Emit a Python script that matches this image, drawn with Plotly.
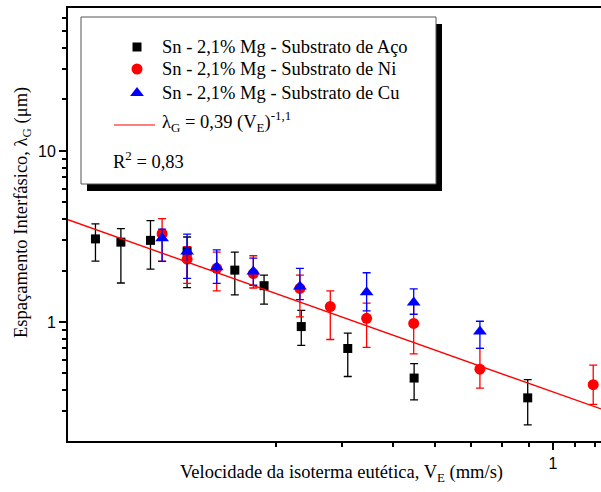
import numpy as np
import plotly.graph_objects as go

# Eutectic growth velocity V_E (mm/s) and interphase spacing lambda_G (um)
v_aco = [0.137, 0.153, 0.174, 0.204, 0.251, 0.285, 0.335, 0.410, 0.547, 0.896]
lam_aco = [3.06, 2.93, 3.00, 2.59, 2.01, 1.63, 0.94, 0.70, 0.47, 0.36]
up_aco = [0.69, 0.58, 0.91, 0.55, 0.55, 0.25, 0.23, 0.16, 0.10, 0.10]
dn_aco = [0.79, 1.24, 0.96, 1.00, 0.57, 0.36, 0.21, 0.22, 0.12, 0.11]

v_ni = [0.183, 0.204, 0.232, 0.272, 0.333, 0.380, 0.445, 0.546, 0.728, 1.191]
lam_ni = [3.28, 2.33, 2.06, 1.92, 1.57, 1.23, 1.05, 0.98, 0.53, 0.43]
up_ni = [0.74, 0.43, 0.50, 0.52, 0.31, 0.29, 0.24, 0.30, 0.17, 0.13]
dn_ni = [1.01, 0.65, 0.54, 0.34, 0.50, 0.44, 0.34, 0.33, 0.12, 0.10]

v_cu = [0.183, 0.204, 0.232, 0.272, 0.333, 0.445, 0.546, 0.728]
lam_cu = [3.09, 2.58, 2.09, 1.97, 1.61, 1.49, 1.30, 0.88]
up_cu = [0.40, 0.68, 0.55, 0.39, 0.45, 0.45, 0.26, 0.13]
dn_cu = [0.83, 0.78, 0.41, 0.33, 0.26, 0.33, 0.19, 0.18]

# Power-law fit lambda_G = a * V_E^b
fit_a = 0.39
fit_b = -1.1
r2_text = "0,83"

series_names = [
    "Sn - 2,1% Mg - Substrato de Aço",
    "Sn - 2,1% Mg - Substrato de Ni",
    "Sn - 2,1% Mg - Substrato de Cu",
]

x_range = [-0.9151, 0.0906]   # log10 of V_E
y_range = [-0.696, 1.836]     # log10 of lambda_G
x_minor = [0.3, 0.4, 0.5, 0.6, 0.7, 0.8, 0.9, 1.1, 1.2]
y_major = [1, 10]
y_minor = [0.3, 0.4, 0.5, 0.6, 0.7, 0.8, 0.9, 2, 3, 4, 5, 6, 7, 8, 9, 20, 30, 40, 50, 60]

SERIF = "Liberation Serif, Times New Roman, serif"
SANS = "Liberation Sans, Arial, sans-serif"

# figure geometry (pixels)
W, H = 601, 492
ML, MR, MT, MB = 68, 0, 8, 51


def px_to_paper(px, py):
    return (px - ML) / (W - ML - MR), (H - MB - py) / (H - MT - MB)


fig = go.Figure()

styles = [
    (v_aco, lam_aco, up_aco, dn_aco, "black", "square", 9),
    (v_ni, lam_ni, up_ni, dn_ni, "#ff0000", "circle", 11),
    (v_cu, lam_cu, up_cu, dn_cu, "#0000ff", "triangle-up", 12),
]
for (vx, ly, eu, ed, col, sym, sz), name in zip(styles, series_names):
    fig.add_trace(go.Scatter(
        x=vx, y=ly, mode="markers", name=name, showlegend=False,
        marker=dict(symbol=sym, size=sz, color=col, line=dict(width=0)),
        error_y=dict(type="data", symmetric=False, array=eu, arrayminus=ed,
                     color=col, thickness=1.3, width=4),
    ))

# fitted curve across the full x range
v_fit = np.logspace(x_range[0], x_range[1], 200)
fig.add_trace(go.Scatter(
    x=v_fit, y=fit_a * v_fit ** fit_b, mode="lines", showlegend=False,
    line=dict(color="#ff0000", width=1.4),
))

# ---- hand-built legend in pixel-unit overlay axes ----
LEG_FONT = dict(family=SERIF, size=18.5, color="black")
legend_rows = [(47, "black", "square", 9), (69, "#ff0000", "circle", 11),
               (93, "#0000ff", "triangle-up", 12)]
for (ry, col, sym, sz), name in zip(legend_rows, series_names):
    fig.add_trace(go.Scatter(
        x=[137], y=[ry], xaxis="x2", yaxis="y2", mode="markers",
        showlegend=False, hoverinfo="skip",
        marker=dict(symbol=sym, size=sz, color=col, line=dict(width=0)),
    ))
    fig.add_annotation(x=160, y=ry, xref="x2", yref="y2", text=name,
                       showarrow=False, xanchor="left", yanchor="middle",
                       font=LEG_FONT)

fig.add_trace(go.Scatter(
    x=[114, 155], y=[125, 125], xaxis="x2", yaxis="y2", mode="lines",
    showlegend=False, hoverinfo="skip", line=dict(color="#ff0000", width=1.2),
))
fit_label = "λ<sub>G</sub> = %s (V<sub>E</sub>)<sup>%s</sup>" % (
    str(fit_a).replace(".", ","), str(fit_b).replace(".", ","))
fig.add_annotation(x=160, y=121, xref="x2", yref="y2", text=fit_label,
                   showarrow=False, xanchor="left", yanchor="middle",
                   font=LEG_FONT)
fig.add_annotation(x=111, y=160, xref="x2", yref="y2",
                   text="R<sup>2</sup> = " + r2_text,
                   showarrow=False, xanchor="left", yanchor="middle",
                   font=LEG_FONT)

# legend frame with drop shadow
fig.add_shape(type="rect", xref="x2", yref="y2", x0=87, y0=24, x1=442, y1=191,
              fillcolor="black", line=dict(width=0), layer="below")
fig.add_shape(type="rect", xref="x2", yref="y2", x0=81, y0=17, x1=436, y1=184,
              fillcolor="white", line=dict(color="#555555", width=1), layer="below")

# axis titles (placed in paper coordinates)
tx, ty = px_to_paper(341, 474)
fig.add_annotation(x=tx, y=ty, xref="paper", yref="paper",
                   text="Velocidade da isoterma eutética, V<sub>E</sub> (mm/s)",
                   showarrow=False, xanchor="center", yanchor="middle",
                   font=dict(family=SERIF, size=18.5, color="black"))
tx, ty = px_to_paper(22, 213)
fig.add_annotation(x=tx, y=ty, xref="paper", yref="paper", textangle=-90,
                   text="Espaçamento Interfásico, λ<sub>G</sub> (μm)",
                   showarrow=False, xanchor="center", yanchor="middle",
                   font=dict(family=SERIF, size=18.5, color="black"))

fig.update_layout(
    width=W, height=H,
    margin=dict(l=ML, r=MR, t=MT, b=MB),
    paper_bgcolor="white", plot_bgcolor="white",
    xaxis=dict(
        type="log", range=x_range, showgrid=False, zeroline=False,
        showline=True, linecolor="black", linewidth=2, mirror=True,
        tickmode="array", tickvals=[1], ticktext=["1"],
        ticks="outside", ticklen=7, tickwidth=1.5, tickcolor="black",
        tickfont=dict(family=SANS, size=16, color="black"),
        minor=dict(tickmode="array", tickvals=x_minor, ticks="outside",
                   ticklen=4, tickwidth=1.5, tickcolor="black", showgrid=False),
    ),
    yaxis=dict(
        type="log", range=y_range, showgrid=False, zeroline=False,
        showline=True, linecolor="black", linewidth=2, mirror=False,
        tickmode="array", tickvals=y_major, ticktext=[str(v) for v in y_major],
        ticks="outside", ticklen=7, tickwidth=1.5, tickcolor="black",
        tickfont=dict(family=SANS, size=16, color="black"),
        minor=dict(tickmode="array", tickvals=y_minor, ticks="outside",
                   ticklen=4, tickwidth=1.5, tickcolor="black", showgrid=False),
    ),
    xaxis2=dict(overlaying="x", range=[ML, W - MR], visible=False, fixedrange=True),
    yaxis2=dict(overlaying="y", range=[H - MB, MT], visible=False, fixedrange=True),
    showlegend=False,
)

fig.write_html("out.html")
